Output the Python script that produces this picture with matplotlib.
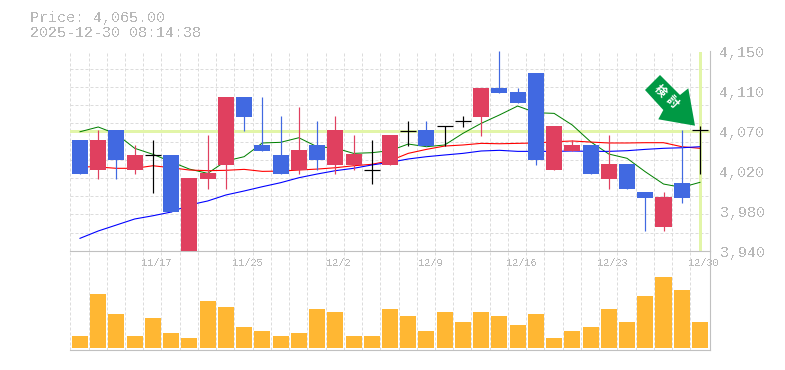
import matplotlib
matplotlib.use("Agg")
import matplotlib.pyplot as plt
from matplotlib.patches import Polygon
from matplotlib.transforms import ScaledTranslation
import numpy as np

dates = ["11/17", "11/25", "12/2", "12/9", "12/16", "12/23", "12/30"]
date_idx = [4, 9, 14, 19, 24, 29, 34]
price_ticks = [4150, 4108, 4066, 4024, 3982, 3940]
price_labels = ["4,150", "4,110", "4,070", "4,020", "3,980", "3,940"]
last_price = 4066

opens = [4056, 4025, 4067, 4025, 4041, 4041, 3940, 4015, 4030, 4101, 4051, 4041,
         4025, 4051, 4030, 4030, 4025, 4030, 4066, 4067, 4071, 4076, 4080, 4111,
         4107, 4127, 4025, 4045, 4051, 4015, 4031, 4002, 3965, 4011, 4067]
closes = [4021, 4056, 4035, 4041, 4041, 3981, 4016, 4022, 4101, 4080, 4045, 4021,
          4046, 4035, 4067, 4042, 4025, 4061, 4066, 4050, 4071, 4076, 4111, 4106,
          4095, 4035, 4071, 4051, 4021, 4031, 4005, 3995, 3996, 3995, 4067]
highs = [4056, 4067, 4067, 4051, 4056, 4041, 4016, 4061, 4101, 4101, 4101, 4081,
         4091, 4076, 4081, 4061, 4056, 4061, 4076, 4076, 4071, 4081, 4111, 4150,
         4111, 4127, 4071, 4056, 4051, 4061, 4031, 4002, 4002, 4067, 4071]
lows = [4021, 4015, 4015, 4021, 4001, 3981, 3940, 4005, 4005, 4066, 4045, 4021,
        4021, 4025, 4021, 4025, 4010, 4030, 4050, 4050, 4050, 4070, 4060, 4106,
        4095, 4030, 4025, 4045, 4021, 4005, 4005, 3961, 3961, 3990, 4021]

ma_green = [4064.9, 4069.9, 4062.5, 4047.5, 4041.2, 4033.4, 4025.7, 4021.2, 4034.2,
            4038.7, 4053.1, 4053.8, 4058.6, 4049.2, 4047.8, 4042.2, 4042.9, 4045,
            4052, 4049.2, 4051, 4063.2, 4073.7, 4082.5, 4091.9, 4084.9, 4084.2,
            4071.9, 4054.4, 4041.5, 4037, 4022.9, 4010, 4006.5, 4011.8]
ma_red = [4028.2, 4027.9, 4026.5, 4026.5, 4029.2, 4027.1, 4024.7, 4024, 4024.4,
          4025.4, 4023.3, 4023.6, 4024.7, 4025.7, 4027.1, 4029.2, 4030.7, 4034.5,
          4042.2, 4046.4, 4049.9, 4051, 4052.7, 4052.3, 4052.7, 4053.1, 4054.4,
          4055.2, 4054.1, 4053.1, 4053.1, 4053.4, 4053.4, 4049.2, 4047.5]
ma_blue = [3953, 3960.7, 3967, 3973.3, 3976.7, 3980.6, 3988, 3992.2, 3998.5, 4002.7,
           4007.2, 4011.4, 4016.6, 4020.5, 4024, 4026.5, 4030, 4032.8, 4036.3, 4038.7,
           4040.5, 4042.2, 4044.7, 4045.4, 4044.3, 4044.3, 4044.3, 4044.7, 4044.3,
           4044.3, 4045, 4046.4, 4047.5, 4048.1, 4049.2]

volume = [12, 54, 34, 12, 30, 15, 10, 47, 41, 21, 17, 12, 15, 39, 36, 12, 12, 39,
          32, 17, 36, 26, 36, 32, 23, 34, 10, 17, 21, 39, 26, 52, 71, 58, 26]

GREY = "#c0c0c0"
TEXT = "#b8b8b8"
GRID = "#dcdcdc"
PALE = "#e2f5a8"
UP = "#e0405f"
DOWN = "#4169e1"
PX = 0.72  # one pixel in points at dpi 100
W, H = 785, 370
L, R = 70.3, 710
TOP, MID, BOT = 50.7, 250.7, 350.3
STEP = 18.235
FIRST = 80

plt.rcParams["font.family"] = ["Liberation Mono", "DejaVu Sans Mono"]
plt.rcParams["text.antialiased"] = False
plt.rcParams["text.hinting"] = "force_autohint"

fig = plt.figure(figsize=(W / 100, H / 100), dpi=100)
ax = fig.add_axes([L / W, 1 - MID / H, (R - L) / W, (MID - TOP) / H])
vol = fig.add_axes([L / W, 1 - BOT / H, (R - L) / W, (BOT - MID) / H])

xlim = ((L - FIRST) / STEP, (R - FIRST) / STEP)
x = np.arange(len(opens))
grid_x = np.arange(35) + (L - FIRST) / STEP

for a in (ax, vol):
    a.set_xlim(xlim)
    for s in ("top", "left"):
        a.spines[s].set_visible(False)
    for s in ("right", "bottom"):
        a.spines[s].set_color(GREY)
        a.spines[s].set_linewidth(1.1 * PX)
    a.set_xticks(grid_x, minor=True)
    a.grid(True, which="minor", axis="x", color=GRID, lw=PX, ls=(0, (3, 2)))
    a.tick_params(which="both", length=0)
    a.set_axisbelow(True)
    a.patch.set_alpha(0)

ax.set_ylim(3940, 4150)
ax.set_yticks(np.linspace(3940, 4150, 12), minor=True)
ax.grid(True, which="minor", axis="y", color=GRID, lw=PX, ls=(0, (3, 2)))
ax.yaxis.tick_right()
ax.set_yticks(price_ticks)
ax.set_yticklabels(price_labels, fontsize=10.8, color=TEXT, va="center")
ax.tick_params(axis="y", which="major", pad=7)
shift = ScaledTranslation(0, -2 / 100, fig.dpi_scale_trans)
for t in ax.get_yticklabels():
    t.set_transform(t.get_transform() + shift)
ax.set_xticks(np.array(date_idx) + 0.2)
ax.set_xticklabels(dates, fontsize=7.4, color=TEXT)
ax.tick_params(axis="x", which="major", pad=5)

ax.axhline(last_price, color=PALE, lw=3 * PX, zorder=1.5)
ax.axvline(34, color=PALE, lw=3 * PX, ymax=0.99, zorder=1.5)

ax.plot(x, ma_green, color="#008000", lw=1.0 * PX, zorder=2)
ax.plot(x, ma_red, color="#ff0000", lw=1.1 * PX, zorder=2)
ax.plot(x, ma_blue, color="#0000ff", lw=1.1 * PX, zorder=2)

# candles: body and wick colour follow direction, flat days are black
for i in x:
    o, c = opens[i], closes[i]
    col = "black" if o == c else (UP if c > o else DOWN)
    ax.vlines(i, lows[i], highs[i], color=col, lw=1.2 * PX, zorder=3)
    if o == c:
        ax.hlines(o, i - 0.44, i + 0.44, color="black", lw=1.2 * PX, zorder=3)
    else:
        ax.bar(i, abs(c - o), bottom=min(o, c), width=0.88, color=col, zorder=3)

vol.bar(x, volume, width=0.88, color="#ffb733", zorder=3)
vol.set_ylim(-2.3, 97.3)
vol.set_xticks([])
vol.set_yticks([])

# header text
fig.text(30 / W, 1 - 18 / H, "Price: 4,065.00", fontsize=10.8, color=TEXT, va="center")
fig.text(30 / W, 1 - 33 / H, "2025-12-30 08:14:38", fontsize=10.8, color=TEXT, va="center")

# green signal arrow
arrow_px = [(660, 75), (645, 90), (663.3, 110), (658.3, 119.3), (695, 125.7),
            (688.3, 88.3), (680, 95)]
fig.add_artist(Polygon([(px / W, 1 - py / H) for px, py in arrow_px], closed=True,
                       transform=fig.transFigure, facecolor="#009944", edgecolor="none"))
fig.text(660 / W, 1 - 91 / H, "検", fontsize=8.5, color="white", rotation=-45,
         ha="center", va="center", family=["Noto Sans CJK JP"], weight="bold",
         antialiased=True)
fig.text(671.7 / W, 1 - 101.7 / H, "討", fontsize=8.5, color="white", rotation=-45,
         ha="center", va="center", family=["Noto Sans CJK JP"], weight="bold",
         antialiased=True)

fig.savefig("out.png", dpi=100)
